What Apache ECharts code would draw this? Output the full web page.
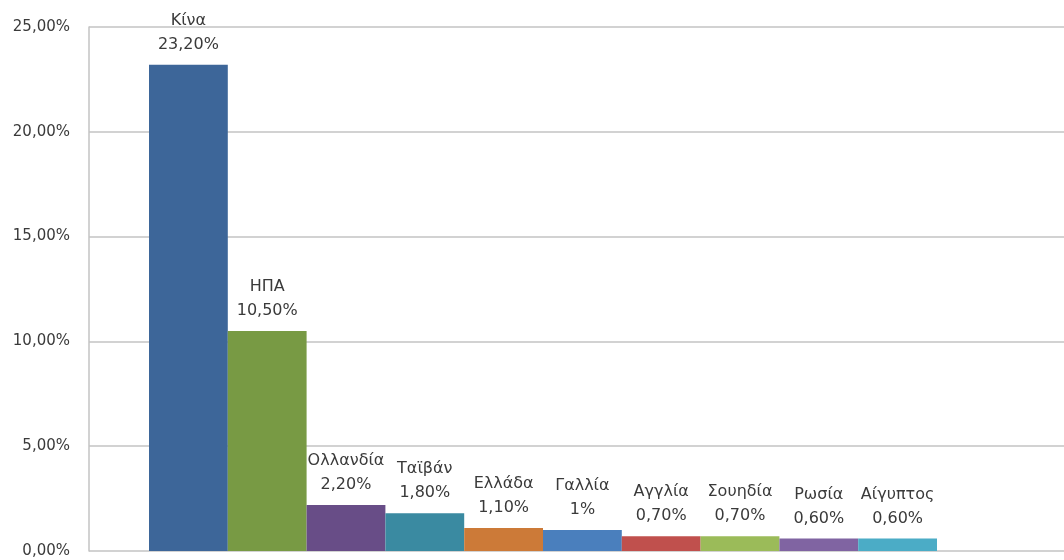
<!DOCTYPE html>
<html>
<head>
<meta charset="utf-8">
<script src="https://cdn.jsdelivr.net/npm/echarts@6/dist/echarts.min.js"></script>
<style>
  html, body { margin: 0; padding: 0; background: #ffffff; }
  #chart { width: 1064px; height: 560px; }
</style>
</head>
<body>
<div id="chart"></div>
<script>
// Countries and their shares (percent)
const countries = ['Κίνα', 'ΗΠΑ', 'Ολλανδία', 'Ταϊβάν', 'Ελλάδα', 'Γαλλία', 'Αγγλία', 'Σουηδία', 'Ρωσία', 'Αίγυπτος'];
const shares = [23.2, 10.5, 2.2, 1.8, 1.1, 1, 0.7, 0.7, 0.6, 0.6];
const shareLabels = ['23,20%', '10,50%', '2,20%', '1,80%', '1,10%', '1%', '0,70%', '0,70%', '0,60%', '0,60%'];
const barColors = ['#3d6699', '#789a44', '#684d87', '#3a8aa1', '#cc7a38', '#4a7fbd', '#c0504d', '#9bbb59', '#8064a2', '#4bacc6'];
const yTicks = ['0,00%', '5,00%', '10,00%', '15,00%', '20,00%', '25,00%'];

const FONT = 'DejaVu Sans';
const TEXT = '#3a3a3a';
const LINE = '#c3c3c3';

const chart = echarts.init(document.getElementById('chart'), null, { renderer: 'canvas' });

chart.setOption({
  animation: false,
  backgroundColor: '#ffffff',
  grid: [
    // frame with the value axis and horizontal grid lines
    { left: 89, right: 0, top: 27, bottom: 9 },
    // inner area holding the bars
    { left: 149, right: 127, top: 27, bottom: 9 }
  ],
  xAxis: [
    { gridIndex: 0, type: 'category', data: [''], show: false },
    {
      gridIndex: 1, type: 'category', data: countries,
      axisLine: { show: false }, axisTick: { show: false }, axisLabel: { show: false }
    }
  ],
  yAxis: [
    {
      gridIndex: 0, type: 'value', min: 0, max: 25, interval: 5,
      axisLine: { show: true, lineStyle: { color: LINE, width: 1.5 } },
      axisTick: { show: false },
      splitLine: { show: true, lineStyle: { color: LINE, width: 1.5 } },
      axisLabel: {
        margin: 19, color: TEXT, fontFamily: FONT, fontSize: 15,
        formatter: (v) => yTicks[Math.round(v / 5)]
      }
    },
    {
      gridIndex: 1, type: 'value', min: 0, max: 25, interval: 5, show: false,
      splitLine: { show: false }
    }
  ],
  series: [{
    type: 'bar',
    xAxisIndex: 1,
    yAxisIndex: 1,
    barCategoryGap: 0,
    data: shares.map((v, i) => ({ value: v, itemStyle: { color: barColors[i] } })),
    label: {
      show: true,
      position: 'top',
      distance: 8,
      color: TEXT,
      fontFamily: FONT,
      fontSize: 16,
      lineHeight: 24,
      align: 'center',
      formatter: (p) => countries[p.dataIndex] + '\n' + shareLabels[p.dataIndex]
    }
  }]
});
</script>
</body>
</html>
